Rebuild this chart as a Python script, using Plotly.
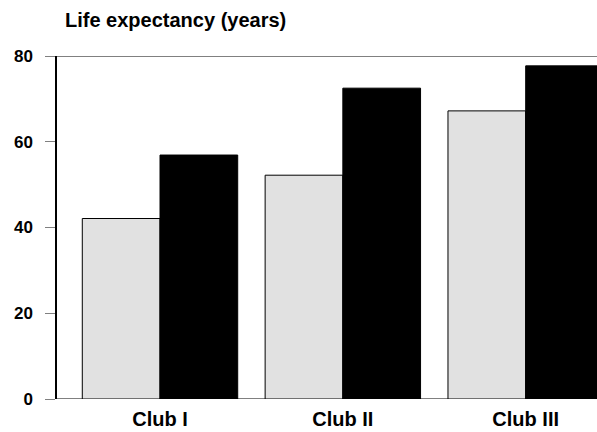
import plotly.graph_objects as go

categories = ["Club I", "Club II", "Club III"]
series_a = [42.1, 52.2, 67.2]
series_b = [56.9, 72.5, 77.7]
y_ticks = [0, 20, 40, 60, 80]

font = "Liberation Sans, Arial, sans-serif"

fig = go.Figure()
fig.add_trace(go.Bar(x=categories, y=series_a, name="A",
                     marker=dict(color="#e1e1e1", line=dict(color="black", width=1))))
fig.add_trace(go.Bar(x=categories, y=series_b, name="B",
                     marker=dict(color="black", line=dict(color="black", width=1))))

for v in (0, 80):
    fig.add_shape(type="line", xref="paper", x0=0, x1=1, yref="y", y0=v, y1=v,
                  line=dict(color="#808080", width=2), layer="below")

fig.update_layout(
    width=597, height=432,
    margin=dict(l=57, r=0, t=56, b=33),
    paper_bgcolor="white", plot_bgcolor="white",
    barmode="group", bargap=0.15, bargroupgap=0,
    showlegend=False,
    font=dict(family=font, color="black"),
    title=dict(text="Life expectancy (years)", x=65 / 597, xanchor="left",
               y=1 - 20 / 432, yanchor="middle",
               font=dict(size=20, family=font, weight="bold")),
    xaxis=dict(range=[-0.5633, 2.390], showline=False, ticks="", showgrid=False,
               tickfont=dict(size=20, family=font, weight="bold"), zeroline=False,
               ticklabelstandoff=6),
    yaxis=dict(range=[0, 80], tickvals=y_ticks,
               showgrid=False, zeroline=False, showline=True, linecolor="black", linewidth=1.5,
               ticks="outside", ticklen=10, tickcolor="#808080", tickwidth=1,
               tickfont=dict(size=17, family=font, weight="bold"), ticklabelstandoff=9),
)

fig.write_html("out.html", config={"displayModeBar": False},
               post_script="document.body.style.margin='0';")
